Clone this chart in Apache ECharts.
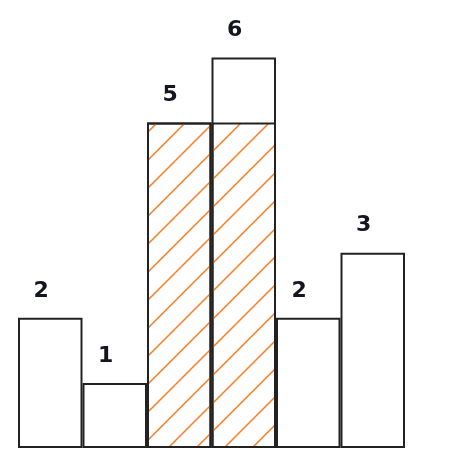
<!DOCTYPE html>
<html>
<head>
<meta charset="utf-8">
<script src="https://cdn.jsdelivr.net/npm/echarts@6/dist/echarts.min.js"></script>
<style>
html,body{margin:0;padding:0;background:#fff;}
#chart{width:476px;height:472px;}
</style>
</head>
<body>
<div id="chart"></div>
<script>
// Data
var categories = ['a', 'b', 'c', 'd', 'e', 'f'];
var heights = [2, 1, 5, 6, 2, 3];
var largestRect = [null, null, 5, 5, null, null];

// Hatch pattern tile
var S = 28;
var tile = document.createElement('canvas');
tile.width = S; tile.height = S;
var ctx = tile.getContext('2d');
ctx.strokeStyle = '#ff7a22';
ctx.lineWidth = 1.5;
ctx.beginPath();
ctx.moveTo(0, S); ctx.lineTo(S, 0);
ctx.moveTo(-2, 2); ctx.lineTo(2, -2);
ctx.moveTo(S - 2, S + 2); ctx.lineTo(S + 2, S - 2);
ctx.stroke();

var chart = echarts.init(document.getElementById('chart'));
chart.setOption({
  animation: false,
  backgroundColor: '#ffffff',
  grid: { left: 18, right: 71, top: 25, bottom: 24 },
  xAxis: {
    type: 'category',
    data: categories,
    show: false
  },
  yAxis: {
    type: 'value',
    min: 0,
    max: 6.5,
    show: false
  },
  series: [
    {
      type: 'bar',
      data: heights,
      barCategoryGap: '0%',
      barGap: '-100%',
      itemStyle: { color: '#ffffff', borderColor: '#222222', borderWidth: 2 },
      label: {
        show: true,
        position: 'top',
        distance: 16,
        offset: [-9, 0],
        fontFamily: 'DejaVu Sans',
        fontWeight: 'bold',
        fontSize: 22,
        color: '#151520'
      },
      z: 1
    },
    {
      type: 'bar',
      data: largestRect,
      barCategoryGap: '0%',
      barGap: '-100%',
      itemStyle: {
        color: { image: tile, repeat: 'repeat' },
        borderColor: '#222222',
        borderWidth: 2
      },
      z: 2
    }
  ]
});
</script>
</body>
</html>
